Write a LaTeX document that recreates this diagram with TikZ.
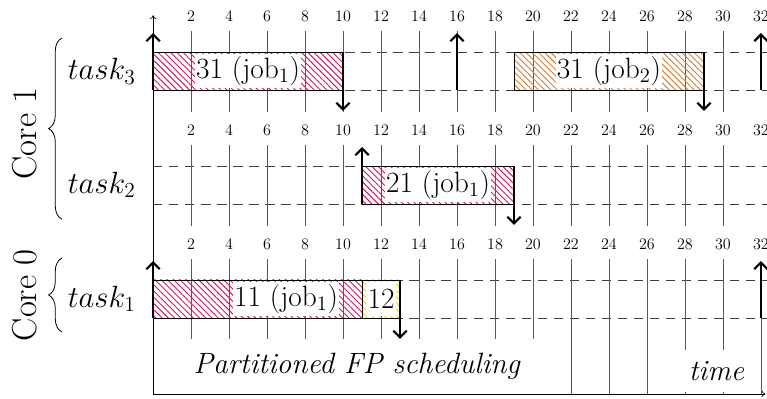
\documentclass[tikz,border=0pt]{standalone}
\usepackage{fix-cm}
\usepackage{fontspec}
\usepackage{tikz}
\usetikzlibrary{arrows.meta,positioning,patterns.meta,decorations.pathreplacing}

\definecolor{jobred}{RGB}{222,20,90}
\definecolor{jobbrown}{RGB}{214,128,52}
\definecolor{jobyellow}{RGB}{232,222,0}

\begin{document}
\begin{tikzpicture}[
    every node/.style={align=center},
    ticklabel/.style={font=\fontsize{12}{14}\selectfont, inner sep=1pt},
    tickline/.style={draw=black!65, line width=0.6pt},
    rowline/.style={draw=black!75, line width=0.6pt, dash pattern=on 7pt off 5pt},
    jobbox/.style={draw=black, line width=0.5pt,
                   pattern={Lines[angle=-45,distance=3.3pt,line width=0.7pt]}},
    joblabel/.style={fill=white, inner xsep=1pt, inner ysep=0pt,
                     minimum height=0.88cm, font=\fontsize{22}{26}\selectfont},
    tasklabel/.style={font=\fontsize{23}{27}\selectfont, anchor=east},
    corelabel/.style={font=\fontsize{26}{30}\selectfont, rotate=90},
    eventarrow/.style={-{Straight Barb[length=5pt,width=10pt]}, line width=1.6pt},
    caption/.style={font=\fontsize{22}{26}\selectfont\itshape, fill=white},
    axis/.style={-{To[length=3pt,width=5pt]}, line width=0.5pt},
    corebrace/.style={decorate, decoration={brace, amplitude=0.35cm}, line width=0.6pt}
  ]
  \useasboundingbox (-4.03,-0.13) rectangle (16.16,10.37);

  % rows: bottom of the row / lower end of its time lines
  \foreach \b/\low in {8/7.42, 5/4.42, 2/0} {
    \draw[rowline] (0,\b) -- (16.15,\b);
    \draw[rowline] (0,\b+1) -- (16.15,\b+1);
    \foreach \t in {2,4,...,30}
      \draw[tickline] (\t/2,\low) -- (\t/2,\b+1.55);
    \foreach \t in {2,4,...,32}
      \node[ticklabel] (tick-\b-\t) at (\t/2,\b+1.95) {\t};
  }
  \draw[tickline] (16,0) -- (16,2);

  \draw[axis] (0,0) -- (0,9.97);
  \draw[axis] (0,0) -- (16.12,0);

  % task 3
  \draw[jobbox, pattern color=jobred] (0,8) rectangle (5,9);
  \draw[jobbox, pattern color=jobbrown] (9.5,8) rectangle (14.5,9);
  \node[joblabel] (job31a) at (2.5,8.5) {31 (job$_1$)};
  \node[joblabel] (job31b) at (12,8.5) {31 (job$_2$)};
  \foreach \x in {0,8,16}
    \draw[eventarrow] (\x,8) -- (\x,9.5);
  \draw[eventarrow] (5,9) -- (5,7.45);
  \draw[eventarrow] (14.5,9) -- (14.5,7.45);

  % task 2
  \draw[jobbox, pattern color=jobred] (5.5,5) rectangle (9.5,6);
  \node[joblabel] (job21) at (7.5,5.5) {21 (job$_1$)};
  \draw[eventarrow] (5.5,5) -- (5.5,6.5);
  \draw[eventarrow] (9.5,6) -- (9.5,4.45);

  % task 1
  \draw[jobbox, pattern color=jobred] (0,2) rectangle (5.5,3);
  \draw[jobbox, pattern color=jobyellow] (5.5,2) rectangle (6.5,3);
  \node[joblabel] (job11) at (3.5,2.5) {11 (job$_1$)};
  \node[joblabel] (job12) at (6,2.5) {12};
  \foreach \x in {0,16}
    \draw[eventarrow] (\x,2) -- (\x,3.5);
  \draw[eventarrow] (6.5,3) -- (6.5,1.45);

  \node[tasklabel] (task3) at (-0.34,8.5) {$task_3$};
  \node[tasklabel] (task2) at (-0.34,5.5) {$task_2$};
  \node[tasklabel] (task1) at (-0.34,2.5) {$task_1$};

  \draw[corebrace] (-2.4,4.6) -- (-2.4,9.37);
  \draw[corebrace] (-2.4,1.63) -- (-2.4,3.58);
  \node[corelabel] (core1) at (-3.37,6.86) {Core 1};
  \node[corelabel] (core0) at (-3.37,2.6) {Core 0};

  \node[caption, inner sep=0.38cm, anchor=north] (title) at (5.36,1.45)
    {Partitioned FP scheduling};
  \node[caption, inner xsep=0.25cm, inner ysep=0.3cm] (timelabel) at (14.83,0.61)
    {time};
\end{tikzpicture}
\end{document}
